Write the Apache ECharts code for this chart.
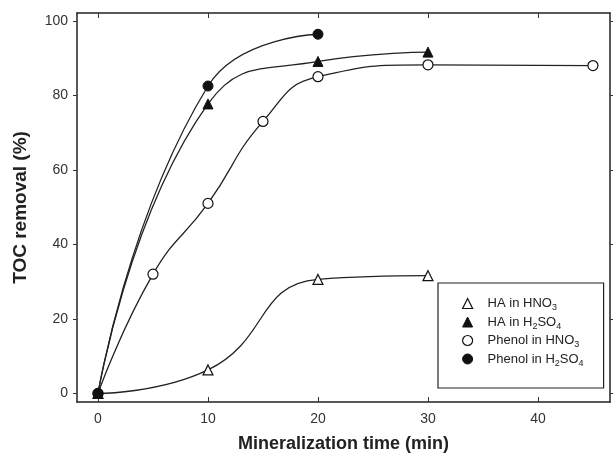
<!DOCTYPE html>
<html>
<head>
<meta charset="utf-8">
<script src="https://cdn.jsdelivr.net/npm/echarts@6/dist/echarts.min.js"></script>
<style>
  html, body { margin: 0; padding: 0; background: #fff; }
  #chart { width: 613px; height: 459px; }
</style>
</head>
<body>
<div id="chart"></div>
<script>
// 数据
var xTicks = [0, 10, 20, 30, 40]
var yTicks = [0, 20, 40, 60, 80, 100]

var haHno3X = [0, 10, 20, 30]
var haHno3Y = [0, 6.3, 30.6, 31.6]

var haH2so4X = [0, 10, 20, 30]
var haH2so4Y = [0, 77.7, 89.1, 91.6]

var phHno3X = [0, 5, 10, 15, 20, 30, 45]
var phHno3Y = [0, 32, 51, 73, 85, 88.2, 88]

var phH2so4X = [0, 10, 20]
var phH2so4Y = [0, 82.5, 96.4]

var names = ['HA in HNO{s|3}', 'HA in H{s|2}SO{s|4}', 'Phenol in HNO{s|3}', 'Phenol in H{s|2}SO{s|4}']

var pairs = function (xs, ys) {
    return xs.map(function (x, i) { return [x, ys[i]] })
}

var box = document.getElementById('chart')
var myChart = echarts.init(box)

var openStyle = { color: '#fff', borderColor: '#111', borderWidth: 1.2 }
var fillStyle = { color: '#111', borderColor: '#111', borderWidth: 1 }

var mkSeries = function (name, data, symbol, size, style) {
    return {
        name: name,
        type: 'line',
        data: data,
        smooth: 0.5,
        symbol: symbol,
        symbolSize: size,
        showAllSymbol: true,
        lineStyle: { color: '#222', width: 1.3 },
        itemStyle: style,
        z: 3
    }
}

var axisCommon = {
    type: 'value',
    axisLine: { show: true, onZero: false, lineStyle: { color: '#222', width: 1.5 } },
    axisTick: { show: true, inside: true, length: 5, lineStyle: { color: '#333' } },
    splitLine: { show: false }
}
var yTickStyle = { show: true, inside: false, length: 4, lineStyle: { color: '#333' }, customValues: yTicks }

var option = {
    backgroundColor: '#fff',
    animation: false,
    textStyle: { fontFamily: 'Liberation Sans, Arial, sans-serif' },
    grid: { left: 77, top: 13, right: 3, bottom: 57 },
    xAxis: [
        Object.assign({}, axisCommon, {
            min: -1.91, max: 46.55, position: 'bottom',
            axisTick: Object.assign({}, axisCommon.axisTick, { customValues: xTicks }),
            axisLabel: { customValues: xTicks, color: '#333', fontSize: 14, margin: 10 },
            name: 'Mineralization time (min)',
            nameLocation: 'middle', nameGap: 33,
            nameTextStyle: { fontSize: 18, fontWeight: 'bold', color: '#222' }
        }),
        Object.assign({}, axisCommon, {
            min: -1.91, max: 46.55, position: 'top',
            axisTick: Object.assign({}, axisCommon.axisTick, { customValues: xTicks }),
            axisLabel: { show: false }
        })
    ],
    yAxis: [
        Object.assign({}, axisCommon, {
            min: -2.3, max: 102.1, position: 'left',
            axisTick: yTickStyle,
            axisLabel: { customValues: yTicks, color: '#333', fontSize: 14, margin: 9 },
            name: 'TOC removal (%)',
            nameLocation: 'middle', nameGap: 47,
            nameTextStyle: { fontSize: 19, fontWeight: 'bold', color: '#222' }
        }),
        Object.assign({}, axisCommon, {
            min: -2.3, max: 102.1, position: 'right',
            axisTick: yTickStyle,
            axisLabel: { show: false }
        })
    ],
    legend: {
        orient: 'vertical',
        left: 438,
        top: 283,
        padding: [14, 20, 20, 24],
        itemGap: 3,
        itemWidth: 10,
        itemHeight: 10,
        borderColor: '#222',
        borderWidth: 1.2,
        borderRadius: 0,
        backgroundColor: '#fff',
        data: [
            { name: names[0], icon: 'triangle', itemStyle: openStyle },
            { name: names[1], icon: 'triangle', itemStyle: fillStyle },
            { name: names[2], icon: 'circle', itemStyle: openStyle },
            { name: names[3], icon: 'circle', itemStyle: fillStyle }
        ],
        formatter: function (n) { return n },
        textStyle: {
            color: '#222',
            fontSize: 13,
            padding: [0, 0, 0, 10],
            rich: {
                s: { fontSize: 9, padding: [9, 0, 0, 0], color: '#222' }
            }
        }
    },
    series: [
        mkSeries(names[0], pairs(haHno3X, haHno3Y), 'triangle', 10, openStyle),
        mkSeries(names[1], pairs(haH2so4X, haH2so4Y), 'triangle', 10, fillStyle),
        mkSeries(names[2], pairs(phHno3X, phHno3Y), 'circle', 10, openStyle),
        mkSeries(names[3], pairs(phH2so4X, phH2so4Y), 'circle', 10, fillStyle)
    ]
}
myChart.setOption(option)
</script>
</body>
</html>
